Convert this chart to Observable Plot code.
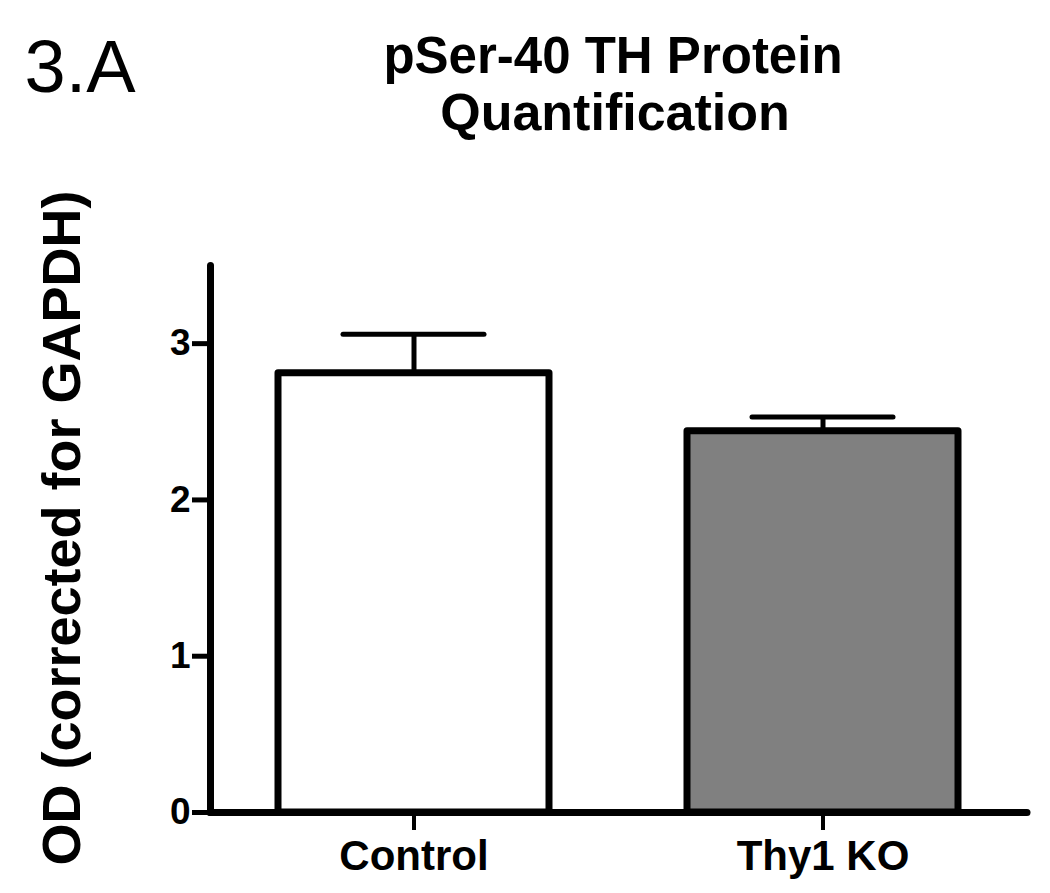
<!DOCTYPE html>
<html><head><meta charset="utf-8">
<script src="https://cdn.jsdelivr.net/npm/d3@7"></script>
<script src="https://cdn.jsdelivr.net/npm/@observablehq/plot@0.6"></script>
<style>body{margin:0;background:#fff}</style>
</head><body><div id="chart"></div>
<script>
const groups = ["Control", "Thy1 KO"];
const means = [2.81, 2.44];
const errors = [0.25, 0.09];
const fills = ["#ffffff", "#808080"];
const yTicks = [0, 1, 2, 3];
const titleLines = ["pSer-40 TH Protein", "Quantification"];
const panelLabel = "3.A";
const yLabel = "OD (corrected for GAPDH)";

const data = groups.map((g, i) => ({group: g, mean: means[i], top: means[i] + errors[i], fill: fills[i]}));
const FONT = "'Liberation Sans', Arial, sans-serif";

const plot = Plot.plot({
  width: 1050, height: 893,
  marginLeft: 210, marginRight: 23, marginTop: 265, marginBottom: 81,
  style: {fontFamily: FONT, background: "white", color: "black", overflow: "visible"},
  x: {domain: groups, paddingInner: 0.337, paddingOuter: 0.167, label: null},
  y: {domain: [0, 3.5], label: null},
  color: {type: "identity"},
  marks: [
    Plot.ruleX(data, {x: "group", y1: "mean", y2: "top", stroke: "black", strokeWidth: 5}),
    Plot.tickY(data, {x: "group", y: "top", stroke: "black", strokeWidth: 5, strokeLinecap: "round", insetLeft: 65, insetRight: 65}),
    Plot.barY(data, {x: "group", y: "mean", fill: "fill", stroke: "black", strokeWidth: 7, strokeLinejoin: "round"}),
    Plot.ruleY([0], {stroke: "black", strokeWidth: 7, strokeLinecap: "round"}),
    Plot.frame({anchor: "left", stroke: "black", strokeWidth: 7, strokeLinecap: "round"}),
    Plot.axisY({ticks: yTicks, tickSize: 18, tickPadding: 2, strokeWidth: 5, fontSize: 37, fontWeight: "bold", label: null, tickFormat: d => String(d)}),
    Plot.axisX({tickSize: 18, tickPadding: 10, strokeWidth: 4, fontSize: 42, fontWeight: "bold", label: null}),
    Plot.text([yLabel], {frameAnchor: "left", rotate: -90, textAnchor: "middle", lineAnchor: "bottom", dx: -131, dy: -11, fontSize: 54, fontWeight: "bold"}),
    Plot.text([titleLines[0]], {frameAnchor: "top", textAnchor: "middle", lineAnchor: "bottom", dx: -6, dy: -193, fontSize: 51, fontWeight: "bold"}),
    Plot.text([titleLines[1]], {frameAnchor: "top", textAnchor: "middle", lineAnchor: "bottom", dx: -4, dy: -136, fontSize: 52, fontWeight: "bold"}),
    Plot.text([panelLabel], {frameAnchor: "top-left", textAnchor: "start", lineAnchor: "bottom", dx: -186, dy: -174, fontSize: 74})
  ]
});
document.getElementById("chart").appendChild(plot);
</script>
</body></html>
